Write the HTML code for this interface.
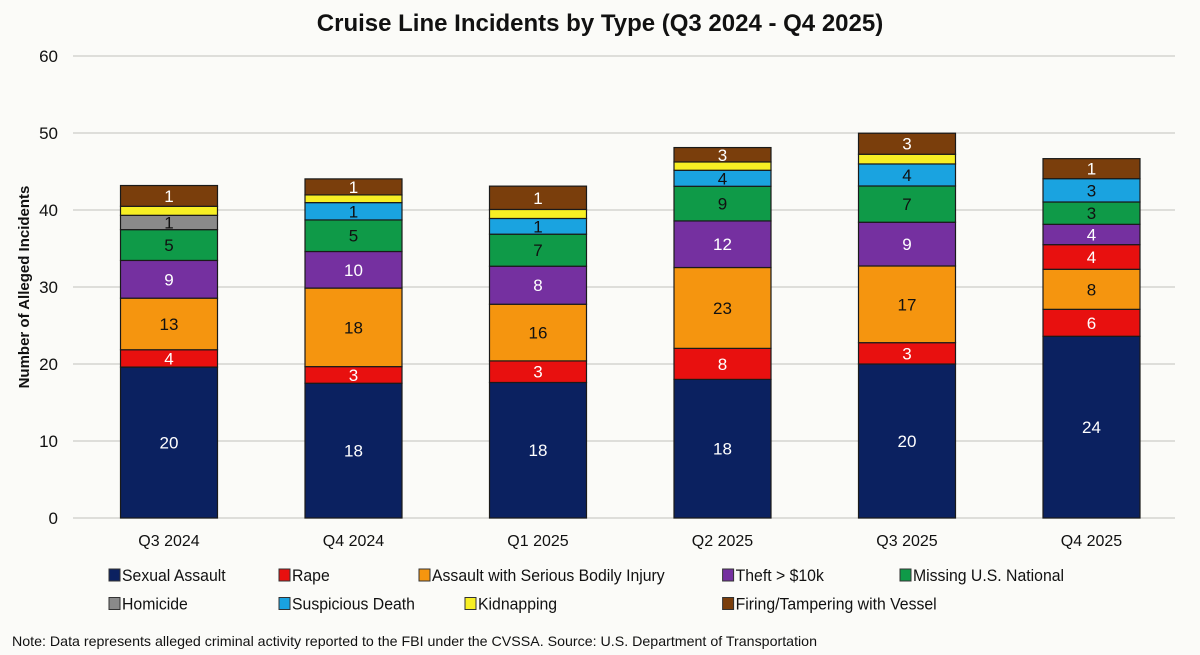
<!DOCTYPE html>
<html><head><meta charset="utf-8"><style>
html,body{margin:0;padding:0;background:#fbfbf8;}
svg{display:block;font-family:"Liberation Sans",Arial,sans-serif;}
</style></head><body>
<svg id="chart" width="1200" height="655" viewBox="0 0 1200 655">
<rect x="0" y="0" width="1200" height="655" fill="#fbfbf8"/>
<text x="600" y="31" text-anchor="middle" font-size="24" font-weight="bold" fill="#111">Cruise Line Incidents by Type (Q3 2024 - Q4 2025)</text>
<text transform="translate(29,287) rotate(-90)" text-anchor="middle" font-size="15" font-weight="bold" fill="#111">Number of Alleged Incidents</text>
<g id="grid"></g><g id="bars"></g><g id="xlabels"></g><g id="legend"></g>
<text x="12" y="646" font-size="14" fill="#111" textLength="805" lengthAdjust="spacingAndGlyphs">Note: Data represents alleged criminal activity reported to the FBI under the CVSSA. Source: U.S. Department of Transportation</text>
</svg>
<script>
const categories = ["Q3 2024","Q4 2024","Q1 2025","Q2 2025","Q3 2025","Q4 2025"];
const seriesNames = ["Sexual Assault","Rape","Assault with Serious Bodily Injury","Rape (additional)","Theft > $10k","Missing U.S. National","Homicide","Suspicious Death","Kidnapping","Firing/Tampering with Vessel"];
const seriesColors = ["#0b2160","#e8100f","#f5950f","#e8100f","#7530a0","#0f9a48","#8a8a8a","#1aa3e0","#f7ef24","#7a3e0c"];
const labelColors = ["#fff","#fff","#111","#fff","#fff","#111","#111","#111","#111","#fff"];
const sexualAssault = [19.6,17.5,17.6,18.0,20.0,23.6];
const rape = [2.25,2.16,2.8,4.03,2.77,3.5];
const assaultInjury = [6.7,10.2,7.36,10.5,9.96,5.2];
const rapeExtra = [0,0,0,0,0,3.2];
const theft = [4.9,4.75,4.94,6.05,5.68,2.64];
const missing = [4.0,4.1,4.16,4.5,4.71,2.9];
const homicide = [1.86,0,0,0,0,0];
const suspicious = [0,2.25,2.04,2.08,2.86,3.03];
const kidnapping = [1.17,1.0,1.17,1.08,1.26,0];
const firing = [2.7,2.08,3.03,1.87,2.73,2.6];
const printedSexualAssault = ["20","18","18","18","20","24"];
const printedRape = ["4","3","3","8","3","6"];
const printedAssault = ["13","18","16","23","17","8"];
const printedRapeExtra = ["","","","","","4"];
const printedTheft = ["9","10","8","12","9","4"];
const printedMissing = ["5","5","7","9","7","3"];
const printedHomicide = ["1","","","","",""];
const printedSuspicious = ["","1","1","4","4","3"];
const printedKidnapping = ["","","","","",""];
const printedFiring = ["1","1","1","3","3","1"];
const yTicks = [0,10,20,30,40,50,60];
const legendOrder = [0,1,2,4,5,6,7,8,9];

const series = [sexualAssault,rape,assaultInjury,rapeExtra,theft,missing,homicide,suspicious,kidnapping,firing];
const printed = [printedSexualAssault,printedRape,printedAssault,printedRapeExtra,printedTheft,printedMissing,printedHomicide,printedSuspicious,printedKidnapping,printedFiring];

const NS="http://www.w3.org/2000/svg";
const plotLeft=76.75, band=184.5, barW=97, y0=518, yMax=60, yTop=56;
const yScale=v=>y0-(v/yMax)*(y0-yTop);
const xCenter=i=>plotLeft+band*(i+0.5);
function mk(tag,attrs,parent){const e=document.createElementNS(NS,tag);for(const k in attrs)e.setAttribute(k,attrs[k]);parent.appendChild(e);return e;}

const grid=document.getElementById('grid');
yTicks.forEach(t=>{
  const l=mk('line',{x1:73,x2:1175,y1:yScale(t),y2:yScale(t),stroke:'#d4d4d0','stroke-width':1.5},grid);
  
  
  const tx=mk('text',{x:58,y:yScale(t)+6,'text-anchor':'end','font-size':17,fill:'#111'},grid);
  tx.textContent=t;
  
  
});

const bars=document.getElementById('bars');
categories.forEach((c,i)=>{
  const g=mk('g',{},bars);
  
  
  let cum=0;
  series.forEach((s,si)=>{
    const v=s[i]; if(!v) return;
    const yb=yScale(cum), yt=yScale(cum+v);
    const r=mk('rect',{x:xCenter(i)-barW/2,y:yt,width:barW,height:yb-yt,fill:seriesColors[si],stroke:'#1a1a1a','stroke-width':1.2},g);
    
    
    const lab=printed[si][i];
    if(lab){
      const t=mk('text',{x:xCenter(i),y:(yb+yt)/2+6,'text-anchor':'middle','font-size':17,fill:labelColors[si]},g);
      t.textContent=lab;
      
      
    }
    cum+=v;
  });
});

const xl=document.getElementById('xlabels');
categories.forEach((c,i)=>{
  const t=mk('text',{x:xCenter(i),y:546,'text-anchor':'middle','font-size':16,fill:'#111'},xl);
  t.textContent=c;
  
  
});

const legendPos=[[109,575],[279,575],[419,575],[722.6,575],[900,575],[109,603.5],[279,603.5],[465,603.5],[722.6,603.5]];
const leg=document.getElementById('legend');
legendOrder.forEach((si,k)=>{
  const [x,y]=legendPos[k];
  const g=mk('g',{},leg);
  
  
  mk('rect',{x:x,y:y-6,width:11,height:12,fill:seriesColors[si],stroke:'#333','stroke-width':1},g);
  const t=mk('text',{x:x+13,y:y+6,'font-size':17,fill:'#111',transform:`translate(${x+13},0) scale(0.93,1) translate(${-(x+13)},0)`},g);
  t.textContent=seriesNames[si];
});
</script>
</body></html>
